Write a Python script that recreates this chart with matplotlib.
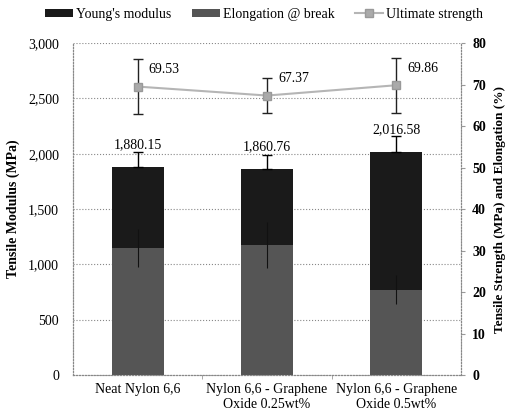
import matplotlib
matplotlib.use("Agg")
import matplotlib.pyplot as plt
import numpy as np
from matplotlib.ticker import FuncFormatter, MultipleLocator

categories = ["Neat Nylon 6,6", "Nylon 6,6 - Graphene\nOxide 0.25wt%", "Nylon 6,6 - Graphene\nOxide 0.5wt%"]
youngs = [1880.15, 1860.76, 2016.58]
youngs_err = [140, 130, 140]
elongation = [30.6, 31.3, 20.5]
elongation_err = [4.5, 5.5, 3.5]
ultimate = [69.53, 67.37, 69.86]
ultimate_err = [6.7, 4.2, 6.6]

plt.rcParams['font.family'] = ['Liberation Serif', 'DejaVu Serif']
plt.rcParams['font.size'] = 10

fig = plt.figure(figsize=(5.08, 4.19), dpi=100)
ax = fig.add_axes([0.1437, 0.105, 0.7638, 0.792])
ax2 = ax.twinx()

x = np.arange(len(categories))
w = 0.4

b1 = ax.bar(x, youngs, w, color='#1a1a1a', zorder=2, label="Young's modulus")
ax.errorbar(x, youngs, yerr=[[0, 0, 0], youngs_err], fmt='none', ecolor='black',
            elinewidth=1, capsize=3.5, zorder=3)
b2 = ax2.bar(x, elongation, w, color='#555555', zorder=2, label="Elongation @ break")
ax2.errorbar(x, elongation, yerr=elongation_err, fmt='none', ecolor='#111111',
             elinewidth=0.8, capsize=0, zorder=3)
ax2.errorbar(x, ultimate, yerr=ultimate_err, fmt='none', ecolor='#222222',
             elinewidth=1, capsize=3.5, zorder=4)
l3, = ax2.plot(x, ultimate, color='#b5b5b5', lw=1.5, marker='s', ms=6,
               mfc='#aaaaaa', mec='#999999', zorder=5, label="Ultimate strength")

ax.set_xlim(-0.5, 2.5)
ax.set_ylim(0, 3000)
ax2.set_ylim(0, 80)
ax.yaxis.set_major_locator(MultipleLocator(500))
ax2.yaxis.set_major_locator(MultipleLocator(10))
ax.yaxis.set_major_formatter(FuncFormatter(lambda v, p: f"{int(v):,}"))

ax.set_xticks(x)
ax.set_xticklabels(categories, fontsize=10)
ax.set_xticks([0.5, 1.5], minor=True)
ax.tick_params(axis='x', which='major', length=0, pad=6)
ax.tick_params(axis='x', which='minor', length=3, color='#999999')
ax.tick_params(axis='y', length=0, labelsize=10, pad=10)
ax2.tick_params(axis='y', length=3, labelsize=10, pad=5, color='#999999')
for t in ax2.get_yticklabels():
    t.set_fontweight('bold')

ax.grid(axis='y', linestyle=':', color='#888888', lw=0.8, zorder=0)
ax.set_axisbelow(True)
for a in (ax, ax2):
    for s in a.spines.values():
        s.set_linestyle(':')
        s.set_color('#888888')
        s.set_linewidth(0.8)
    a.spines['top'].set_visible(False)

ax.set_ylabel("Tensile Modulus (MPa)", fontweight='bold', fontsize=10, labelpad=6)
ax2.set_ylabel("Tensile Strength (MPa) and Elongation (%)", fontweight='bold', fontsize=9.5, labelpad=6)

for xi, v in zip(x, youngs):
    ax.annotate(f"{v:,.2f}", (xi, v), xytext=(0, 16), textcoords='offset points',
                ha='center', va='center', fontsize=10, zorder=6)
for xi, v in zip(x, ultimate):
    ax2.annotate(f"{v:.2f}", (xi, v), xytext=(19, 12), textcoords='offset points',
                 ha='center', va='center', fontsize=10, zorder=6)

fig.legend([b1, b2, l3], ["Young's modulus", "Elongation @ break", "Ultimate strength"],
           loc='center', bbox_to_anchor=(0.52, 0.966), ncol=3,
           frameon=False, fontsize=10, handlelength=2.0, handleheight=0.5,
           handletextpad=0.2, columnspacing=1.5)

fig.savefig("out.png", dpi=100)
